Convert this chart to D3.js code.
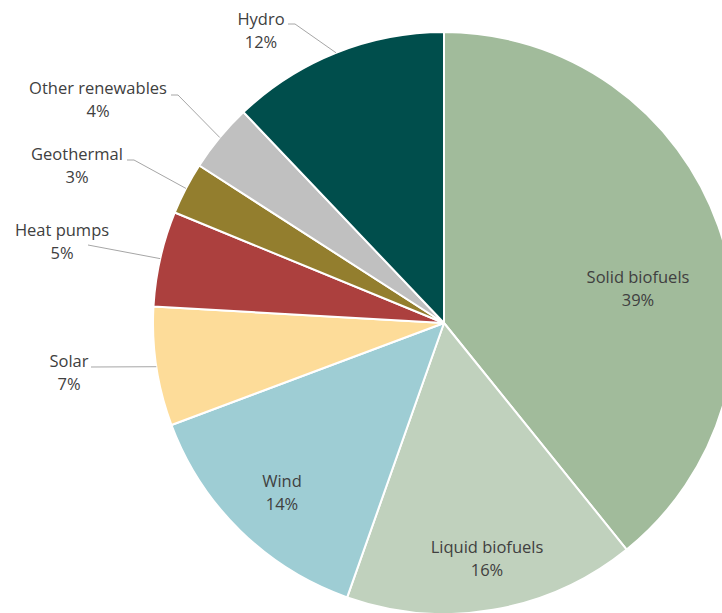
<!DOCTYPE html>
<html>
<head>
<meta charset="utf-8">
<script src="https://cdn.jsdelivr.net/npm/d3@7"></script>
<style>
  html, body { margin: 0; padding: 0; background: #ffffff; overflow: hidden; }
  svg { display: block; }
</style>
</head>
<body>
<svg id="chart" width="722" height="613"></svg>
<script>
// ---- Data ----
const categories = ["Solid biofuels", "Liquid biofuels", "Wind", "Solar", "Heat pumps", "Geothermal", "Other renewables", "Hydro"];
const shares = [39.2, 16.2, 13.9, 6.6, 5.3, 2.9, 3.8, 12.1];
const percentLabels = ["39%", "16%", "14%", "7%", "5%", "3%", "4%", "12%"];
const colors = ["#a1bb9b", "#c0d1bd", "#9ecdd4", "#fddc99", "#ac403e", "#937e2e", "#c0c0c0", "#004e4c"];

// ---- Label layout (text block centre x, first baseline y, leader start) ----
const labelLayout = [
  { inside: true, x: 638, y: 283 },
  { inside: true, x: 487, y: 553 },
  { inside: true, x: 282, y: 487 },
  { inside: false, x: 69, y: 367, lead: [[91, 367]] },
  { inside: false, x: 62, y: 236, lead: [[88, 245]] },
  { inside: false, x: 77, y: 160, lead: [[127, 160], [134, 160]] },
  { inside: false, x: 98, y: 94, lead: [[171, 95], [178, 95]] },
  { inside: false, x: 261, y: 25, lead: [[288, 24], [295, 24]] }
];

const svg = d3.select("#chart");
const cx = 444, cy = 323, R = 291;
const lineGap = 23;

const pie = d3.pie().sort(null).value(d => d)(shares);
const arc = d3.arc().innerRadius(0).outerRadius(R);

const g = svg.append("g").attr("transform", `translate(${cx},${cy})`);

g.selectAll("path.slice")
  .data(pie)
  .join("path")
  .attr("class", "slice")
  .attr("d", arc)
  .attr("fill", (d, i) => colors[i])
  .attr("stroke", "#ffffff")
  .attr("stroke-width", 2)
  .attr("stroke-linejoin", "round");

// leader lines
pie.forEach((d, i) => {
  const L = labelLayout[i];
  if (L.inside) return;
  const mid = (d.startAngle + d.endAngle) / 2;
  const ex = cx + R * Math.sin(mid);
  const ey = cy - R * Math.cos(mid);
  const pts = L.lead.concat([[ex, ey]]);
  svg.append("path")
    .attr("d", d3.line()(pts))
    .attr("fill", "none")
    .attr("stroke", "#a6a6a6")
    .attr("stroke-width", 1);
});

// labels
pie.forEach((d, i) => {
  const L = labelLayout[i];
  const t = svg.append("text")
    .attr("text-anchor", "middle")
    .attr("font-family", "'Open Sans', sans-serif")
    .attr("font-size", 16.5)
    .attr("fill", "#404040");
  t.append("tspan").attr("x", L.x).attr("y", L.y).text(categories[i]);
  t.append("tspan").attr("x", L.x).attr("y", L.y + lineGap).text(percentLabels[i]);
});
</script>
</body>
</html>
